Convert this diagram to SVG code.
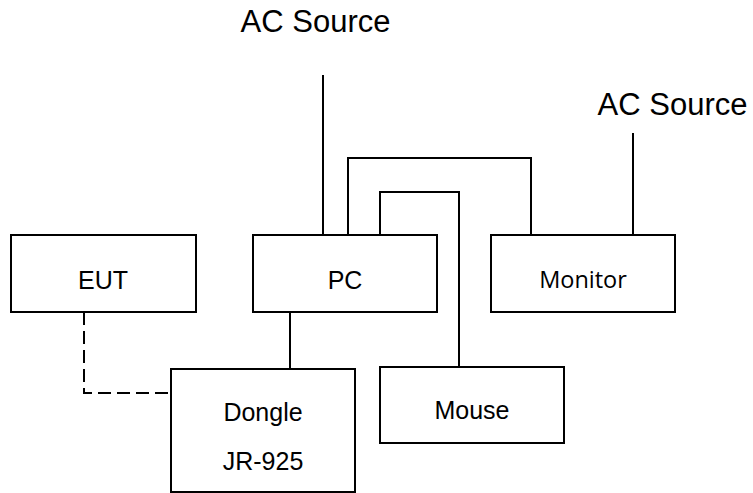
<svg xmlns="http://www.w3.org/2000/svg" width="753" height="493" viewBox="0 0 753 493">
<style>
.box{fill:#fff;stroke:#000;stroke-width:2}
.t{font-family:"Liberation Sans",Arial,sans-serif;font-size:25px;fill:#000;text-anchor:middle}
.big{font-size:31px}
.mon{font-family:"Open Sans","Noto Sans",sans-serif;font-size:23.5px}
.w{fill:none;stroke:#000;stroke-width:2}
.d{stroke-dasharray:13 6}
</style>
<rect width="753" height="493" fill="#fff"/>
<g id="connectors">
<path class="w" d="M323 75V235"/>
<path class="w" d="M348 235V158H531V235"/>
<path class="w" d="M380 235V192H459V367"/>
<path class="w" d="M290 312V369"/>
<path class="w" d="M633 133V235"/>
<path class="w d" d="M84 312V393H171"/>
</g>
<g id="ac1"><text class="t big" x="315.5" y="32">AC Source</text></g>
<g id="ac2"><text class="t big" x="672.5" y="115">AC Source</text></g>
<g id="eut"><rect class="box" x="11" y="235" width="185" height="77"/><text class="t" x="103" y="289">EUT</text></g>
<g id="pc"><rect class="box" x="253" y="235" width="184" height="77"/><text class="t" x="345" y="289">PC</text></g>
<g id="monitor"><rect class="box" x="491" y="235" width="184" height="77"/><text class="t mon" x="583" y="288">Monitor</text></g>
<g id="dongle"><rect class="box" x="171" y="369" width="184" height="123"/><text class="t" x="263" y="421">Dongle</text><text class="t" x="263" y="470">JR-925</text></g>
<g id="mouse"><rect class="box" x="380" y="367" width="184" height="76"/><text class="t" x="472" y="419">Mouse</text></g>
</svg>
